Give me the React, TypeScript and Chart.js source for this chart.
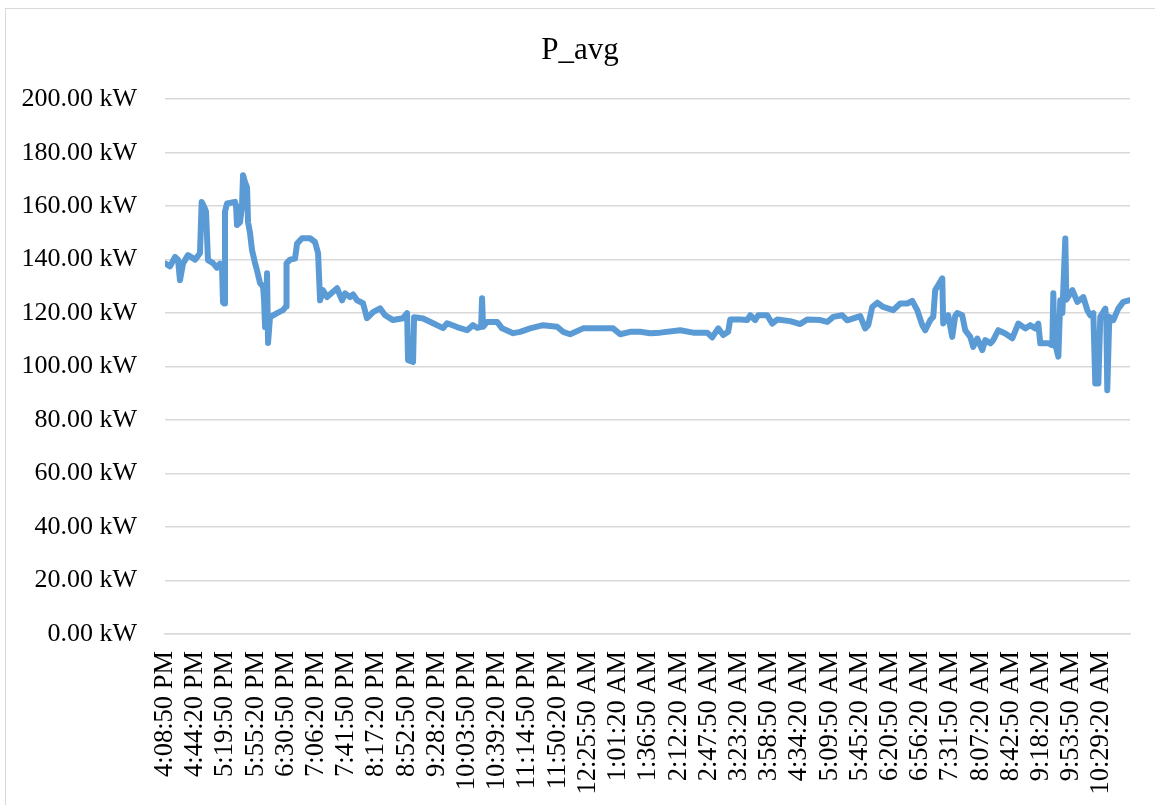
import React, { useEffect, useRef } from "react";
import { Chart, registerables } from "chart.js";

Chart.register(...registerables);

// Minutes elapsed since 4:08:50 PM
const minutes = [
  0, 5.9, 11.8, 15.3, 17.6, 21.2, 27, 35.3, 41.1, 43.1, 47, 48.2, 50.5, 56.4, 61.1, 64.7, 67, 68.2, 69.4, 70.5,
  72.9, 82.3, 83.5, 84.6, 88.2, 90.5, 91.7, 94, 96.4, 97.6, 99.9, 102.3, 105.8, 108.1, 111.7, 115.2, 116.4,
  117.6, 118.8, 119.9, 121.1, 123.4, 131.7, 138.7, 142.2, 142.8, 146.9, 152.8, 155.2, 161, 170.4, 176.3, 179.9,
  182.2, 185.7, 190.4, 202.2, 208.1, 211.6, 217.5, 221, 225.7, 232.7, 237.4, 244.5, 252.7, 258.6, 268, 279.8,
  284.5, 285.6, 291.5, 292.7, 303.3, 315, 326.8, 331.5, 343.2, 355, 362, 366.8, 371.5, 372.6, 373.8, 378.5,
  390.3, 396.1, 409.1, 417.3, 429.1, 444.3, 460.8, 467.8, 476.1, 491.4, 507.8, 526.6, 534.9, 546.6, 558.4,
  570.1, 581.9, 605.4, 620.7, 637.1, 643, 650.1, 656, 661.8, 664.2, 676, 684.1, 687.7, 693.5, 697.1, 707.7,
  713.5, 719.4, 734.7, 746.4, 754.7, 770, 778.2, 785.3, 795.8, 801.7, 817, 822.8, 826.4, 831.1, 837, 844,
  855.8, 864, 872.2, 878.1, 884, 889.9, 893.4, 899.3, 902.8, 905.1, 908.7, 913.4, 914.5, 920.4, 925.1, 928.6,
  931, 936.8, 940.4, 946.3, 949.8, 954.5, 960.4, 963.9, 969.8, 973.3, 979.2, 987.4, 995.7, 1002.7, 1010.9,
  1016.8, 1022.7, 1026.2, 1028.6, 1038, 1042.7, 1043.9, 1045, 1049.8, 1052.1, 1054.5, 1058, 1059.2, 1066.3,
  1072.1, 1079.2, 1083.8, 1087.3, 1090.9, 1093.2, 1096.8, 1099.1, 1105, 1106.2, 1107.3, 1109.7, 1114.4,
  1120.2, 1126.1, 1134,
];

// P_avg in kW
const pAvg = [
  138.6, 137.5, 141, 140, 132.3, 138.6, 141.7, 140, 142.4, 161.6, 159, 158, 139.8, 138.7, 137, 138.5, 137, 124,
  123.6, 158, 161, 161.6, 160, 153, 154, 160, 171.6, 169, 167, 154, 150, 143.5, 138.7, 136, 131.2, 130, 125,
  114.8, 120, 134.9, 108.8, 118.5, 120, 121.1, 122.5, 138.6, 140, 140.4, 146, 148, 148, 146.6, 142.4, 124.8,
  128.6, 126, 129.3, 124.8, 127.4, 126, 127, 124.8, 123.7, 118.1, 120.4, 121.8, 119.2, 117.4, 118.1, 120,
  102.4, 101.7, 118.5, 118, 116.2, 114.4, 116.2, 114.8, 113.6, 115.5, 114.5, 114.9, 125.6, 114.9, 116.7,
  116.7, 114.3, 112.5, 113, 114.3, 115.5, 114.9, 113, 112.1, 114.3, 114.3, 114.3, 112.1, 113, 113, 112.5,
  112.7, 113.6, 112.7, 112.7, 110.9, 114.3, 111.8, 113, 117.6, 117.6, 117.4, 119.2, 117.4, 119.2, 119.2,
  116.1, 117.6, 117, 115.9, 117.6, 117.4, 116.7, 118.6, 119.2, 117.3, 118.9, 114.3, 115.5, 122.3, 123.9,
  122.3, 121.1, 123.6, 123.6, 124.6, 121.1, 115.5, 113.6, 117.4, 118.6, 128.6, 130.5, 133, 116.1, 119.2,
  111.1, 119, 120, 119.2, 113.6, 111.1, 107.4, 110.5, 106.2, 109.9, 108.7, 109.9, 113.6, 112.4, 110.6,
  116.1, 114.3, 115.5, 114.3, 116.1, 108.7, 108.7, 108, 127.4, 110, 103.7, 124.8, 120, 147.9, 125, 128.6,
  124.2, 126, 121.1, 119.2, 120, 93.7, 93.7, 118.6, 121.7, 117, 91.2, 118.6, 117.4, 121.7, 124.2, 124.8,
];

const tickLabels = [
  "4:08:50 PM", "4:44:20 PM", "5:19:50 PM", "5:55:20 PM", "6:30:50 PM", "7:06:20 PM", "7:41:50 PM",
  "8:17:20 PM", "8:52:50 PM", "9:28:20 PM", "10:03:50 PM", "10:39:20 PM", "11:14:50 PM", "11:50:20 PM",
  "12:25:50 AM", "1:01:20 AM", "1:36:50 AM", "2:12:20 AM", "2:47:50 AM", "3:23:20 AM", "3:58:50 AM",
  "4:34:20 AM", "5:09:50 AM", "5:45:20 AM", "6:20:50 AM", "6:56:20 AM", "7:31:50 AM", "8:07:20 AM",
  "8:42:50 AM", "9:18:20 AM", "9:53:50 AM", "10:29:20 AM",
];

const labelStepMinutes = 35.5;
const xMaxMinutes = 1134;

export default function App() {
  const canvasRef = useRef<HTMLCanvasElement | null>(null);

  useEffect(() => {
    if (!canvasRef.current) return;
    const font = "'Liberation Serif', 'Times New Roman', serif";
    const chart = new Chart(canvasRef.current, {
      type: "line",
      data: {
        datasets: [
          {
            label: "P_avg",
            data: minutes.map((m, i) => ({ x: m, y: pAvg[i] })),
            borderColor: "#5B9BD5",
            backgroundColor: "#5B9BD5",
            borderWidth: 6,
            pointRadius: 0,
            tension: 0,
            borderJoinStyle: "round",
            borderCapStyle: "round",
          },
        ],
      },
      options: {
        responsive: false,
        animation: false,
        layout: { padding: { top: 0, left: 5, right: 0, bottom: 0 } },
        plugins: {
          legend: { display: false },
          tooltip: { enabled: false },
          title: {
            display: true,
            text: "P_avg",
            color: "#000",
            font: { family: font, size: 31, weight: "normal" },
            padding: { top: 32, bottom: 30 },
          },
        },
        scales: {
          x: {
            type: "linear",
            min: 0,
            max: xMaxMinutes,
            grid: { display: false, drawTicks: false },
            border: { display: true, color: "#D9D9D9", width: 1.5 },
            ticks: {
              stepSize: labelStepMinutes,
              includeBounds: false,
              maxTicksLimit: 100,
              autoSkip: false,
              minRotation: 90,
              maxRotation: 90,
              padding: 17,
              color: "#000",
              font: { family: font, size: 26.5 },
              callback: (_v: any, i: number) => tickLabels[i] ?? "",
            },
            afterFit: (scale: any) => {
              scale.height = 171;
            },
          },
          y: {
            min: 0,
            max: 200,
            grid: { color: "#D9D9D9", lineWidth: 1.5, drawTicks: false },
            border: { display: false },
            ticks: {
              stepSize: 20,
              padding: 28,
              color: "#000",
              font: { family: font, size: 26 },
              callback: (v: any) => Number(v).toFixed(2) + " kW",
            },
            afterFit: (scale: any) => {
              scale.width = 160;
            },
          },
          yRight: {
            position: "right",
            display: true,
            grid: { display: false, drawTicks: false },
            border: { display: false },
            ticks: { display: false },
            afterFit: (scale: any) => {
              scale.width = 25;
            },
          },
        },
      },
    });
    return () => chart.destroy();
  }, []);

  return (
    <div
      style={{
        position: "fixed",
        left: 0,
        top: 0,
        width: 1155,
        height: 805,
        overflow: "hidden",
        background: "#fff",
      }}
    >
      <div
        style={{
          position: "absolute",
          left: 5,
          top: 8,
          width: 1300,
          height: 1000,
          border: "1px solid #D9D9D9",
          boxSizing: "border-box",
        }}
      />
      <canvas
        ref={canvasRef}
        width={1155}
        height={805}
        style={{ position: "absolute", left: 0, top: 0, width: 1155, height: 805 }}
      />
    </div>
  );
}
